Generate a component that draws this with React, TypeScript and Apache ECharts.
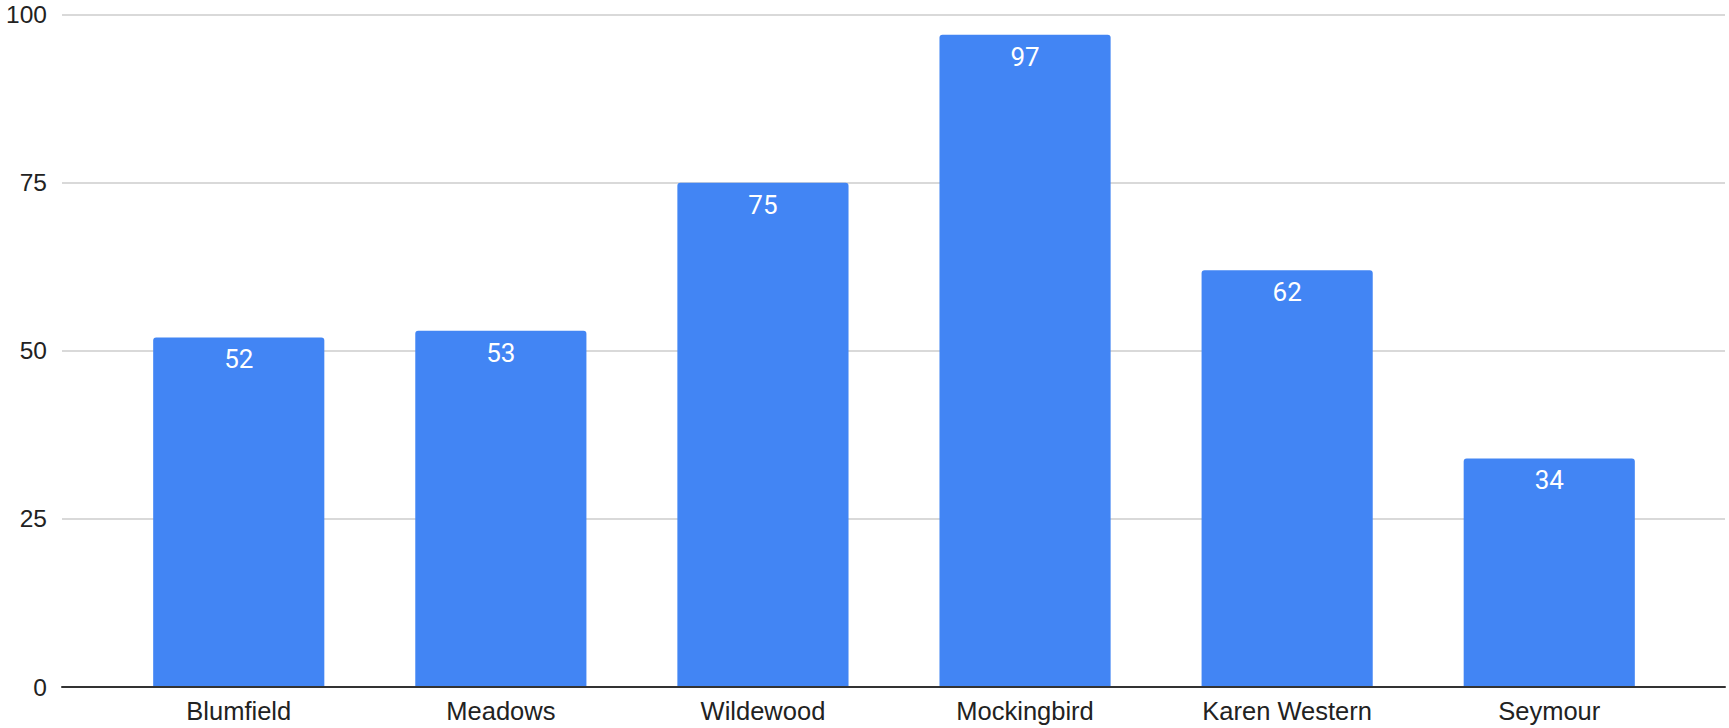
import React, { useEffect, useRef } from "react";
import * as echarts from "echarts";

const categories = ["Blumfield", "Meadows", "Wildewood", "Mockingbird", "Karen Western", "Seymour"];
const values = [52, 53, 75, 97, 62, 34];
const yTicks = [0, 25, 50, 75, 100];

export default function App() {
  const ref = useRef<HTMLDivElement>(null);
  useEffect(() => {
    if (!ref.current) return;
    const chart = echarts.init(ref.current, null, { renderer: "svg" });
    const top = 14.7;
    const bottom = 41;
    chart.setOption({
      animation: false,
      backgroundColor: "#ffffff",
      grid: [
        { left: 62, right: 4, top, bottom },
        { left: 107.7, right: 48.7, top, bottom },
      ],
      xAxis: [
        {
          type: "value",
          gridIndex: 0,
          min: 0,
          max: 1,
          axisLine: { show: true, onZero: false, lineStyle: { color: "#333333", width: 2 } },
          axisTick: { show: false },
          axisLabel: { show: false },
          splitLine: { show: false },
          z: 5,
        },
        {
          type: "category",
          gridIndex: 1,
          data: categories,
          axisLine: { show: false },
          axisTick: { show: false },
          axisLabel: {
            color: "#222222",
            fontSize: 25.5,
            fontFamily: "Arial, 'Liberation Sans', sans-serif",
            margin: 11,
          },
        },
      ],
      yAxis: [
        {
          type: "value",
          gridIndex: 0,
          min: yTicks[0],
          max: yTicks[yTicks.length - 1],
          interval: 25,
          axisLine: { show: false },
          axisTick: { show: false },
          axisLabel: {
            color: "#222222",
            fontSize: 24.5,
            fontFamily: "Arial, 'Liberation Sans', sans-serif",
            margin: 15,
          },
          splitLine: { show: true, lineStyle: { color: "#cccccc", width: 1.5 } },
        },
        {
          type: "value",
          gridIndex: 1,
          min: 0,
          max: 100,
          interval: 25,
          show: false,
          splitLine: { show: false },
        },
      ],
      series: [
        {
          type: "bar",
          xAxisIndex: 1,
          yAxisIndex: 1,
          data: values,
          barWidth: "65.3%",
          itemStyle: { color: "#4285F4", borderRadius: [3, 3, 0, 0] },
          label: {
            show: true,
            position: "insideTop",
            distance: 9,
            color: "#ffffff",
            fontSize: 26,
            lineHeight: 26,
            fontWeight: "normal",
            fontFamily: "Roboto, Arial, sans-serif",
          },
        },
      ],
    });
    return () => chart.dispose();
  }, []);
  return (
    <div
      ref={ref}
      style={{ position: "fixed", left: 0, top: 0, width: 1729, height: 728 }}
    />
  );
}
